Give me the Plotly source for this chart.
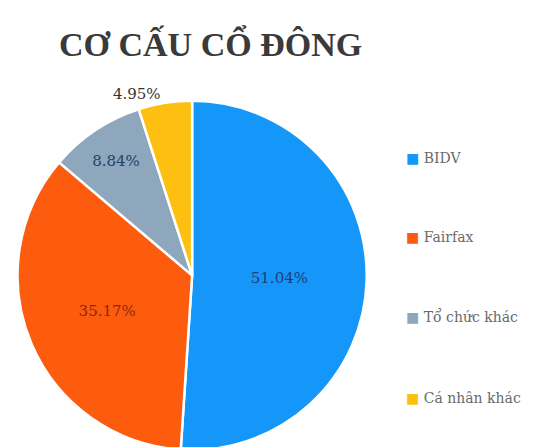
import plotly.graph_objects as go

# Shareholder structure
labels = ["BIDV", "Fairfax", "Tổ chức khác", "Cá nhân khác"]
shares = [51.04, 35.17, 8.84, 4.95]
colors = ["#1497f9", "#fd5c0f", "#8ea7bc", "#fdbf10"]
text_colors = ["#1c3f7a", "#8a2a05", "#23426e", "#333333"]
text_pos = ["inside", "inside", "inside", "outside"]
legend_y = [152, 232, 312, 394]  # pixel rows of the legend entries

W, H = 548, 447
SERIF = "Liberation Serif, Times New Roman, serif"
WIDE_SERIF = "DejaVu Serif, serif"

fig = go.Figure()
fig.add_trace(go.Pie(
    labels=labels, values=shares,
    sort=False, direction="clockwise", rotation=0,
    marker=dict(colors=colors, line=dict(color="white", width=2.5)),
    texttemplate="%{value:.2f}%", textposition=text_pos,
    textfont=dict(family=WIDE_SERIF, size=15, color=text_colors),
    insidetextorientation="horizontal",
    domain=dict(x=[0.012, 0.66], y=[0.0, 0.79]),
    showlegend=False, hoverinfo="label+percent",
))

# title
fig.add_annotation(
    text="<b>CƠ CẤU CỔ ĐÔNG</b>", x=0.37, y=1 - 36 / H,
    xref="paper", yref="paper", xanchor="center", yanchor="middle",
    showarrow=False, font=dict(family=SERIF, size=34, color="#3a3a3a"),
)

# legend drawn as text so the entries can be spread out like the original
for lab, col, py in zip(labels, colors, legend_y):
    fig.add_annotation(
        text=f"<span style='color:{col}'>■</span> {lab}",
        x=396 / W, y=1 - py / H, xref="paper", yref="paper",
        xanchor="left", yanchor="middle", showarrow=False,
        font=dict(family=WIDE_SERIF, size=14, color="#6a6a6a"),
    )

fig.update_layout(
    width=W, height=H,
    margin=dict(l=0, r=0, t=0, b=0),
    paper_bgcolor="white", plot_bgcolor="white",
)

fig.write_html("out.html")
